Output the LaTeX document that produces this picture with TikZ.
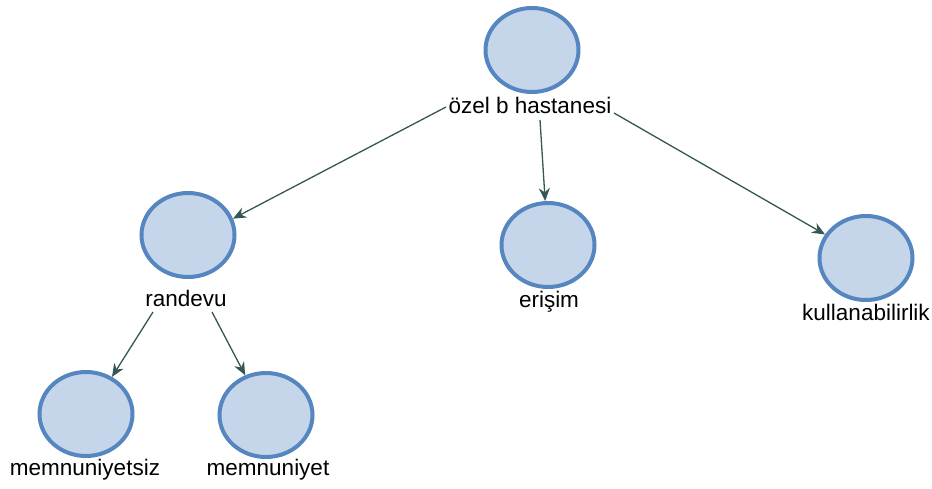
\documentclass[tikz,border=0pt]{standalone}
\usepackage{fontspec}
\setmainfont{Liberation Sans}
\usetikzlibrary{shapes.geometric,arrows.meta}
\definecolor{nodefill}{HTML}{C5D6EA}
\definecolor{nodeline}{HTML}{5586BF}
\definecolor{edgecol}{HTML}{365656}
\tikzset{
  circ/.style={ellipse, draw=nodeline, fill=nodefill, line width=4pt, minimum width=93pt, minimum height=84pt, inner sep=0pt},
  lbl/.style={inner sep=1pt, font=\fontsize{22.5}{26}\selectfont},
  edge/.style={draw=edgecol, line width=1.3pt, -{Stealth[length=13pt,width=11pt]}}
}
\begin{document}
\begin{tikzpicture}[x=1pt,y=-1pt]
\useasboundingbox (0,0) rectangle (932,488);
\node[circ] (top) at (532,50) {};
\node[lbl] (toplbl) at (530,105) {özel b hastanesi};
\node[circ] (ran) at (188,235) {};
\node[lbl] (ranlbl) at (186,298) {randevu};
\node[circ] (eri) at (548,245) {};
\node[lbl] (erilbl) at (549,302) {erişim};
\node[circ] (kul) at (866,258) {};
\node[lbl] (kullbl) at (866,312) {kullanabilirlik};
\node[circ] (mez) at (86,414) {};
\node[lbl] (mezlbl) at (85,470) {memnuniyetsiz};
\node[circ] (mem) at (266,415) {};
\node[lbl] (memlbl) at (268,470) {memnuniyet};
\coordinate (s1) at (446,107);
\coordinate (s2) at (540,120);
\coordinate (s3) at (614,113);
\coordinate (s4) at (153,312);
\coordinate (s5) at (212,312);
\draw[edge] (s1) -- (ran.20);
\draw[edge] (s2) -- (eri);
\draw[edge] (s3) -- (kul);
\draw[edge] (s4) -- (mez.55);
\draw[edge] (s5) -- (mem);
\end{tikzpicture}
\end{document}
